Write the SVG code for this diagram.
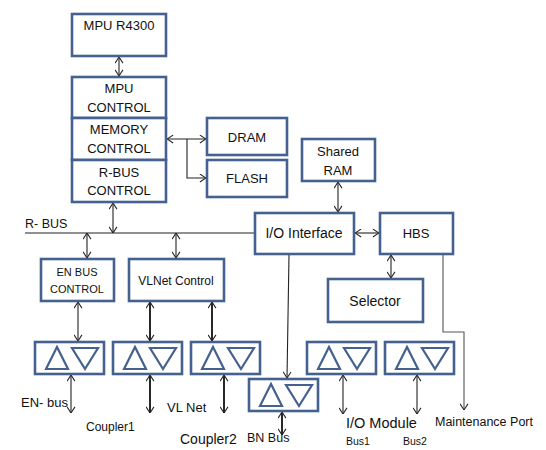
<svg xmlns="http://www.w3.org/2000/svg" xmlns:xlink="http://www.w3.org/1999/xlink" width="546" height="450" viewBox="0 0 546 450">
<style>
.box{fill:#fff;stroke:#45618f;stroke-width:2.6}
.tri{fill:none;stroke:#45618f;stroke-width:2.2;stroke-linejoin:miter}
.t{font-family:"Liberation Sans",Arial,sans-serif;fill:#111;text-anchor:middle;dominant-baseline:central}
.l{font-family:"Liberation Sans",Arial,sans-serif;fill:#111;dominant-baseline:central}
.c{fill:none;stroke:#222;stroke-width:1.1}
.k{fill:none;stroke:#111;stroke-width:1.8}
.g{fill:none;stroke:#555;stroke-width:1.1}
.d{marker-start:url(#ah);marker-end:url(#ah)}
.e{marker-end:url(#ah)}
</style>
<defs>
<marker id="ah" viewBox="0 0 8 10" refX="7.5" refY="5" markerWidth="7" markerHeight="9" markerUnits="userSpaceOnUse" orient="auto-start-reverse">
<path d="M0.5,0.5 L7.5,5 L0.5,9.5" fill="none" stroke="#222" stroke-width="1.2"/>
</marker>
<g id="mod">
<rect class="box" x="0" y="0" width="69" height="32"/>
<polygon class="tri" points="11,27 22,5 33,27"/>
<polygon class="tri" points="37,6 63,6 50,27"/>
</g>
</defs>
<rect width="546" height="450" fill="#fff"/>

<g id="connectors">
<line class="c d" x1="119" y1="57" x2="119" y2="76"/>
<line class="c d" x1="167" y1="139" x2="206" y2="139"/>
<path class="c e" d="M187,139 V178 H206"/>
<line class="c d" x1="113" y1="203" x2="113" y2="233"/>
<line class="c" x1="25" y1="233" x2="255" y2="233"/>
<line class="c d" x1="87" y1="233" x2="87" y2="258"/>
<line class="c d" x1="176" y1="233" x2="176" y2="258"/>
<line class="c d" x1="78" y1="302" x2="78" y2="341"/>
<line class="k d" x1="150" y1="302" x2="150" y2="341"/>
<line class="k d" x1="212" y1="302" x2="212" y2="341"/>
<line class="c d" x1="71" y1="375" x2="71" y2="413"/>
<line class="k d" x1="150" y1="375" x2="150" y2="413"/>
<line class="k d" x1="224" y1="375" x2="224" y2="413"/>
<line class="c d" x1="343" y1="375" x2="343" y2="414"/>
<line class="c d" x1="417" y1="375" x2="417" y2="414"/>
<line class="k d" x1="282" y1="412" x2="282" y2="435"/>
<path class="c e" d="M289,255 L287,378"/>
<line class="c d" x1="338" y1="182" x2="338" y2="212"/>
<line class="c d" x1="355" y1="233" x2="379" y2="233"/>
<line class="c d" x1="391" y1="255" x2="391" y2="278"/>
<path class="g e" d="M443,255 V332 H464 V410"/>
</g>

<g id="mpu-r4300">
<rect class="box" x="72" y="14" width="94" height="42"/>
<text class="t" x="119" y="25" font-size="13">MPU R4300</text>
</g>
<g id="mpu-control">
<rect class="box" x="72" y="77" width="94" height="41"/>
<text class="t" x="119" y="88" font-size="13">MPU</text>
<text class="t" x="119" y="107" font-size="13">CONTROL</text>
</g>
<g id="memory-control">
<rect class="box" x="72" y="118" width="94" height="42"/>
<text class="t" x="119" y="129" font-size="13">MEMORY</text>
<text class="t" x="119" y="148" font-size="13">CONTROL</text>
</g>
<g id="rbus-control">
<rect class="box" x="72" y="160" width="94" height="42"/>
<text class="t" x="119" y="172" font-size="13">R-BUS</text>
<text class="t" x="119" y="190" font-size="13">CONTROL</text>
</g>
<g id="dram">
<rect class="box" x="207" y="118" width="80" height="37"/>
<text class="t" x="247" y="137" font-size="13">DRAM</text>
</g>
<g id="flash">
<rect class="box" x="207" y="160" width="80" height="37"/>
<text class="t" x="247" y="178" font-size="13">FLASH</text>
</g>
<g id="shared-ram">
<rect class="box" x="302" y="139" width="73" height="42"/>
<text class="t" x="338" y="151" font-size="13">Shared</text>
<text class="t" x="338" y="170" font-size="13">RAM</text>
</g>
<g id="io-interface">
<rect class="box" x="255" y="213" width="99" height="41"/>
<text class="t" x="304" y="233" font-size="14">I/O Interface</text>
</g>
<g id="hbs">
<rect class="box" x="380" y="213" width="73" height="41"/>
<text class="t" x="416" y="233" font-size="13">HBS</text>
</g>
<g id="selector">
<rect class="box" x="328" y="279" width="95" height="43"/>
<text class="t" x="375" y="301" font-size="14">Selector</text>
</g>
<g id="en-bus-control">
<rect class="box" x="41" y="259" width="73" height="42"/>
<text class="t" x="77" y="272" font-size="11">EN BUS</text>
<text class="t" x="77" y="289" font-size="11">CONTROL</text>
</g>
<g id="vlnet-control">
<rect class="box" x="129" y="259" width="95" height="42"/>
<text class="t" x="176" y="281" font-size="12">VLNet Control</text>
</g>

<g id="coupler-en"><use xlink:href="#mod" href="#mod" x="35" y="342"/></g>
<g id="coupler-vl1"><use xlink:href="#mod" href="#mod" x="113" y="342"/></g>
<g id="coupler-vl2"><use xlink:href="#mod" href="#mod" x="191" y="342"/></g>
<g id="coupler-bn"><use xlink:href="#mod" href="#mod" x="249" y="379"/></g>
<g id="io-bus1"><use xlink:href="#mod" href="#mod" x="307" y="342"/></g>
<g id="io-bus2"><use xlink:href="#mod" href="#mod" x="385" y="342"/></g>

<g id="labels">
<text class="l" x="25" y="224" font-size="12.5">R- BUS</text>
<text class="l" x="21" y="402" font-size="13">EN- bus</text>
<text class="l" x="86" y="427" font-size="12">Coupler1</text>
<text class="l" x="167" y="407" font-size="13">VL Net</text>
<text class="l" x="180" y="439" font-size="14">Coupler2</text>
<text class="l" x="247" y="438" font-size="12.5">BN Bus</text>
<text class="l" x="346" y="423" font-size="14.5">I/O Module</text>
<text class="l" x="346" y="441" font-size="10.5">Bus1</text>
<text class="l" x="403" y="441" font-size="10.5">Bus2</text>
<text class="l" x="435" y="422" font-size="12.5">Maintenance Port</text>
</g>
</svg>
